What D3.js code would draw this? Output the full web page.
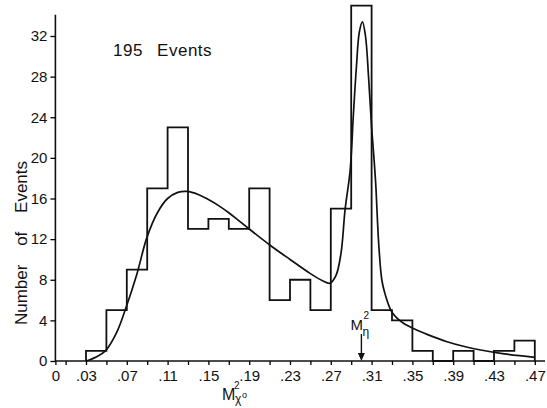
<!DOCTYPE html>
<html>
<head>
<meta charset="utf-8">
<script src="https://cdn.jsdelivr.net/npm/d3@7"></script>
<style>
  body { margin: 0; background: #fff; }
  svg { display: block; }
  text { font-family: "Liberation Sans", Arial, sans-serif; fill: #111; }
</style>
</head>
<body>
<div id="chart"></div>
<script>
// histogram bins (lower edges, width .02) and counts
var binEdges = [.03,.05,.07,.09,.11,.13,.15,.17,.19,.21,.23,.25,.27,.29,.31,.33,.35,.37,.39,.41,.43,.45]
var binCounts = [1,5,9,17,23,13,14,13,17,6,8,5,15,35,5,4,1,0,1,0,1,2]
var binWidth = .02

// fitted curve
var curveX = [.030,.040,.049,.060,.069,.080,.0895,.100,.110,.120,.129,.140,.150,.160,.170,.180,.190,.2105,.230,.250,.262,.269,.275,.280,.284,.289,.292,.295,.298,.301,.304,.307,.310,.3117,.314,.317,.320,.323,.330,.340,.351,.365,.384,.400,.417,.440,.470]
var curveY = [0,0.4,1.0,2.8,5.2,8.6,12.1,14.6,16.0,16.6,16.7,16.4,15.9,15.3,14.6,13.8,13.0,11.4,10.0,8.6,7.9,7.65,8.4,10.6,14.9,18.8,24.0,28.8,32.4,33.4,32.0,28.0,23.0,20.8,17.5,11.5,8.0,6.66,4.8,3.8,3.2,2.6,1.9,1.45,1.08,0.7,0.36]

var yTicks = [0,4,8,12,16,20,24,28,32]
var xTicks = [0,.01,.03,.05,.07,.09,.11,.13,.15,.17,.19,.21,.23,.25,.27,.29,.31,.33,.35,.37,.39,.41,.43,.45,.47]
var xLabels = [0,.03,.07,.11,.15,.19,.23,.27,.31,.35,.39,.43,.47]
var etaMass2 = .300

var width = 547, height = 408

var svg = d3.select("#chart").append("svg")
    .attr("width", width)
    .attr("height", height)

var x = d3.scaleLinear().domain([0, .47]).range([55.4, 534.8])
var y = d3.scaleLinear().domain([0, 32]).range([361, 36])

// axes lines (they run a bit past the last tick, like the original)
svg.append("line")
    .attr("x1", x(0)).attr("x2", x(.48))
    .attr("y1", y(0)).attr("y2", y(0))
    .attr("stroke", "#111").attr("stroke-width", 1.6)
svg.append("line")
    .attr("x1", x(0)).attr("x2", x(0))
    .attr("y1", y(0)).attr("y2", y(34.1))
    .attr("stroke", "#111").attr("stroke-width", 1.6)

var yAxis = svg.append("g")
    .attr("transform", "translate(" + x(0) + ",0)")
    .call(d3.axisLeft(y).tickValues(yTicks).tickSize(5).tickPadding(3))
yAxis.select(".domain").remove()
yAxis.selectAll("text").style("font-size", "15px")
yAxis.selectAll("line").attr("stroke-width", 1.3)

var fmt = function(d){
    if (d === 0) return "0"
    if (xLabels.indexOf(d) < 0) return ""
    return "." + d3.format("02d")(Math.round(d * 100))
}
var xAxis = svg.append("g")
    .attr("transform", "translate(0," + y(0) + ")")
    .call(d3.axisBottom(x).tickValues(xTicks).tickSize(4).tickPadding(5).tickFormat(fmt))
xAxis.select(".domain").remove()
xAxis.selectAll("text").style("font-size", "15px")
xAxis.selectAll("line").attr("stroke-width", 1.3)

// histogram outline
var histPts = [[binEdges[0], 0]]
binEdges.forEach(function(lo, i){
    histPts.push([lo, binCounts[i]])
    histPts.push([lo + binWidth, binCounts[i]])
})
histPts.push([binEdges[binEdges.length - 1] + binWidth, 0])

svg.append("path")
    .datum(histPts)
    .attr("fill", "none")
    .attr("stroke", "#111")
    .attr("stroke-width", 1.8)
    .attr("d", d3.line().x(d => x(d[0])).y(d => y(d[1])))

// fitted curve
var curvePts = curveX.map((v, i) => [v, curveY[i]])
svg.append("path")
    .datum(curvePts)
    .attr("fill", "none")
    .attr("stroke", "#111")
    .attr("stroke-width", 1.7)
    .attr("d", d3.line().curve(d3.curveCatmullRom.alpha(0.5)).x(d => x(d[0])).y(d => y(d[1])))

// title
svg.append("text")
    .attr("x", 113).attr("y", 56)
    .style("font-size", "17px")
    .style("word-spacing", "9px")
    .style("letter-spacing", "0.5px")
    .text("195 Events")

// y label
svg.append("text")
    .attr("transform", "translate(27,243) rotate(-90)")
    .attr("text-anchor", "middle")
    .style("font-size", "17px")
    .style("word-spacing", "14px")
    .text("Number of Events")

// x label M²χ° (pieces stacked like the hand lettering)
svg.append("text").attr("x", 222).attr("y", 400).style("font-size", "16px").text("M")
svg.append("text").attr("x", 234).attr("y", 389).style("font-size", "10px").text("2")
svg.append("text").attr("x", 235).attr("y", 403).style("font-size", "12px").text("χ")
svg.append("text").attr("x", 242).attr("y", 398).style("font-size", "9px").text("o")

// eta marker
var ex = x(etaMass2)
svg.append("text").attr("x", ex - 11).attr("y", 330).style("font-size", "15px").text("M")
svg.append("text").attr("x", ex + 2).attr("y", 319).style("font-size", "10px").text("2")
svg.append("text").attr("x", ex + 1).attr("y", 336).style("font-size", "12px").text("η")

svg.append("line")
    .attr("x1", ex).attr("x2", ex)
    .attr("y1", 334).attr("y2", y(0) - 6)
    .attr("stroke", "#111").attr("stroke-width", 1.4)
svg.append("path")
    .attr("d", d3.line()([[ex - 3.5, y(0) - 8], [ex + 3.5, y(0) - 8], [ex, y(0)]]) + "Z")
    .attr("fill", "#111")
</script>
</body>
</html>
